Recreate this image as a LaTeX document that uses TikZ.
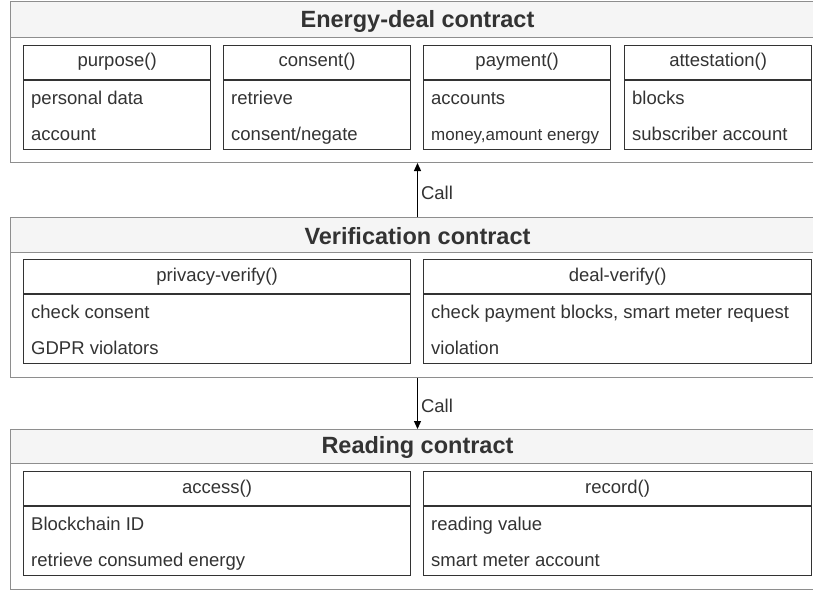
\documentclass[tikz,border=0pt]{standalone}
\usepackage{fontspec}
\setmainfont{Liberation Sans}
\usetikzlibrary{arrows.meta}
\definecolor{txtc}{HTML}{333333}
\definecolor{outerc}{HTML}{8E8E8E}
\definecolor{headfill}{HTML}{F5F5F5}
\definecolor{innerc}{HTML}{333333}
\tikzset{
  container/.style={draw=outerc, line width=1pt, fill=white, rectangle, inner sep=0pt, minimum width=814pt, minimum height=160pt, anchor=north west},
  headbar/.style={draw=outerc, line width=1pt, fill=headfill},
  methbox/.style={draw=innerc, line width=1.2pt, rectangle, inner sep=0pt, minimum height=104pt},
  divline/.style={draw=innerc, line width=1.2pt},
  txt/.style={text=txtc, inner sep=0pt, font=\fontsize{18.5}{22}\selectfont, text height=13pt, text depth=4pt},
  smalltxt/.style={txt, font=\fontsize{17}{20}\selectfont},
  titletxt/.style={text=txtc, inner sep=0pt, font=\fontsize{23.5}{28}\selectfont\bfseries},
  arr/.style={draw=black, line width=1.2pt, -{Triangle[width=7pt,length=8pt]}},
  calllbl/.style={text=txtc, inner sep=3pt, font=\fontsize{18.5}{22}\selectfont}
}
\newcommand\mymethod[8]{%
  \node[methbox, minimum width=#4pt, anchor=north west] (#1) at (#2,#3) {};
  \draw[divline] ([yshift=-35pt]#1.north west) -- ([yshift=-35pt]#1.north east);
  \node[txt] (#1-t) at ([yshift=-17.5pt]#1.north) {#5};
  \node[txt, anchor=west] (#1-a) at ([xshift=8pt,yshift=-55pt]#1.north west) {#6};
  \node[#8, anchor=west] (#1-b) at ([xshift=8pt,yshift=-91pt]#1.north west) {#7};
}
\begin{document}
\begin{tikzpicture}[x=1pt,y=-1pt]
\useasboundingbox (0,0) rectangle (813,591);
\clip (0,0) rectangle (813,591);
\fill[white] (0,0) rectangle (813,591);
% Energy-deal contract
\node[container] (E) at (10,2) {};
\draw[headbar] (E.north west) rectangle ([yshift=-36pt]E.north east);
\node[titletxt] (E-t) at ([yshift=-19pt]E.north) {Energy-deal contract};
\mymethod{purpose}{23}{45}{187}{purpose()}{personal data}{account}{txt}
\mymethod{consent}{223}{45}{187}{consent()}{retrieve}{consent/negate}{txt}
\mymethod{payment}{423}{45}{187}{payment()}{accounts}{money,amount energy}{smalltxt}
\mymethod{attest}{624}{45}{187}{attestation()}{blocks}{subscriber account}{txt}
% Verification contract
\node[container] (V) at (10,217) {};
\draw[headbar] (V.north west) rectangle ([yshift=-35pt]V.north east);
\node[titletxt] (V-t) at ([yshift=-19pt]V.north) {Verification contract};
\mymethod{privacy}{23}{259}{387}{privacy-verify()}{check consent}{GDPR violators}{txt}
\mymethod{deal}{423}{259}{388}{deal-verify()}{check payment blocks, smart meter request}{violation}{txt}
% Reading contract
\node[container] (R) at (10,429) {};
\draw[headbar] (R.north west) rectangle ([yshift=-34pt]R.north east);
\node[titletxt] (R-t) at ([yshift=-18pt]R.north) {Reading contract};
\mymethod{access}{23}{471}{387}{access()}{Blockchain ID}{retrieve consumed energy}{txt}
\mymethod{record}{423}{471}{388}{record()}{reading value}{smart meter account}{txt}
% connectors
\draw[arr] (V.north) -- (E.south) node[calllbl, pos=0.45, anchor=west] (c1) {Call};
\draw[arr] (V.south) -- (R.north) node[calllbl, pos=0.54, anchor=west] (c2) {Call};
\end{tikzpicture}
\end{document}
